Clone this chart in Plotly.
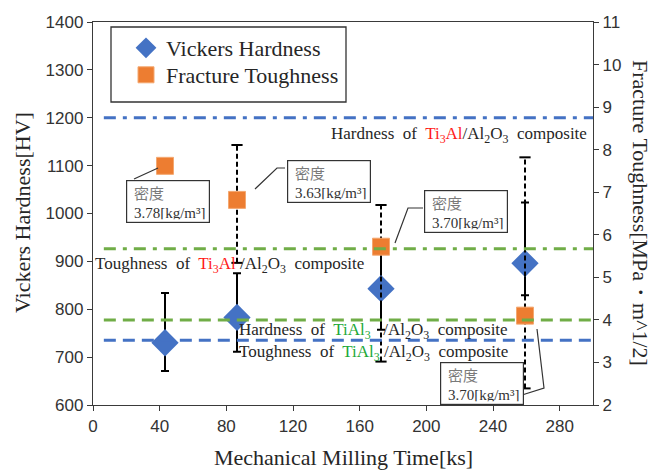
import plotly.graph_objects as go

# ---------------- data ----------------
time_ks = [43.2, 86.4, 172.8, 259.2]
hardness = [730, 783, 843, 896]
hard_err_plus = [104, 92, 86, 127]
hard_err_minus = [59, 72, 86, 67]
toughness = [7.62, 6.82, 5.72, 4.10]
tough_err_plus = [0, 1.29, 0.98, 3.72]
tough_err_minus = [0, 1.48, 2.70, 1.71]

density_labels = ["3.78[kg/m³]", "3.63[kg/m³]", "3.70[kg/m³]", "3.70[kg/m³]"]

ref_x = [6.5, 300]
ref_hard_ti3al = 1200      # HV (left axis)
ref_hard_tial3 = 735       # HV (left axis)
ref_tough_ti3al = 5.67     # MPa m^1/2 (right axis)
ref_tough_tial3 = 4.0      # MPa m^1/2 (right axis)

x_ticks = [0, 40, 80, 120, 160, 200, 240, 280]

BLUE = "#4472C4"
ORANGE = "#ED7D31"
GREEN = "#70AD47"
RED_T = "#FF1A1A"
GREEN_T = "#22A838"
SERIF = "Liberation Serif"
SANS = "Liberation Sans"

# plot area in pixels
L, R, T, B = 93, 593, 22, 405
W, H = R - L, B - T


def px(xp):
    return (xp - L) / W


def py(yp):
    return (B - yp) / H


fig = go.Figure()

# Vickers hardness with solid error bars
fig.add_trace(go.Scatter(
    x=time_ks, y=hardness, mode="markers", name="Vickers Hardness",
    marker=dict(symbol="diamond", size=21, color=BLUE),
    error_y=dict(type="data", array=hard_err_plus, arrayminus=hard_err_minus,
                 color="black", thickness=2, width=4, visible=True),
    yaxis="y", legend="legend",
))

# dashed error bars for toughness
eb_x, eb_y, cap_x, cap_y = [], [], [], []
for xv, yv, ep, em in zip(time_ks, toughness, tough_err_plus, tough_err_minus):
    if ep == 0 and em == 0:
        continue
    eb_x += [xv, xv, None]
    eb_y += [yv - em, yv + ep, None]
    cap_x += [xv, xv]
    cap_y += [yv - em, yv + ep]

fig.add_trace(go.Scatter(
    x=eb_x, y=eb_y, mode="lines", showlegend=False, yaxis="y2",
    line=dict(color="black", width=2, dash="5px,3px"), hoverinfo="skip",
))
fig.add_trace(go.Scatter(
    x=cap_x, y=cap_y, mode="markers", showlegend=False, yaxis="y2",
    marker=dict(symbol="line-ew", size=8, line=dict(color="black", width=2)),
    hoverinfo="skip",
))

fig.add_trace(go.Scatter(
    x=time_ks, y=toughness, mode="markers", name="Fracture Toughness",
    marker=dict(symbol="square", size=17, color=ORANGE,
                line=dict(color="#F4A870", width=1)),
    yaxis="y2", legend="legend2",
))

shapes = []
# reference lines (drawn above markers)
shapes.append(dict(type="line", xref="x", yref="y", x0=ref_x[0], x1=ref_x[1],
                   y0=ref_hard_ti3al, y1=ref_hard_ti3al, layer="above",
                   line=dict(color=BLUE, width=3, dash="12px,7px,4px,7px")))
shapes.append(dict(type="line", xref="x", yref="y", x0=ref_x[0], x1=ref_x[1],
                   y0=ref_hard_tial3, y1=ref_hard_tial3, layer="above",
                   line=dict(color=BLUE, width=3, dash="12px,7px")))
shapes.append(dict(type="line", xref="x", yref="y2", x0=ref_x[0], x1=ref_x[1],
                   y0=ref_tough_ti3al, y1=ref_tough_ti3al, layer="above",
                   line=dict(color=GREEN, width=3, dash="12px,7px,4px,7px")))
shapes.append(dict(type="line", xref="x", yref="y2", x0=ref_x[0], x1=ref_x[1],
                   y0=ref_tough_tial3, y1=ref_tough_tial3, layer="above",
                   line=dict(color=GREEN, width=3, dash="12px,7px")))

# legend frame
shapes.append(dict(type="rect", xref="paper", yref="paper",
                   x0=px(111), x1=px(346), y0=py(102), y1=py(27),
                   line=dict(color="#333333", width=1.3), fillcolor="rgba(0,0,0,0)"))

# callout leader lines (pixel points)
leaders = [
    [(134, 179), (158, 168)],
    [(255, 189), (277, 168), (285, 168)],
    [(395, 243), (408, 208), (423, 208)],
    [(537, 329), (544, 388), (522, 395)],
]
for pts in leaders:
    path = "M " + " L ".join(f"{px(a)},{py(b)}" for a, b in pts)
    shapes.append(dict(type="path", xref="paper", yref="paper", path=path,
                       line=dict(color="#333333", width=1.2)))

annotations = []
# callout boxes (pixel centre, inner height)
boxes = [(167.5, 201, 35), (328.5, 181, 35), (466, 211.5, 35), (482, 383, 35)]
for (cx, cy, bh), lab in zip(boxes, density_labels):
    annotations.append(dict(
        xref="paper", yref="paper", x=px(cx), y=py(cy), xanchor="center", yanchor="middle",
        text=(f"&nbsp;<span style='font-family:Noto Sans CJK JP;color:#7a7a7a'>密度</span>"
              f"<br>&nbsp;{lab}"),
        showarrow=False, align="left", valign="middle", height=bh, borderpad=3,
        bordercolor="#333333", borderwidth=1.2, bgcolor="white",
        font=dict(family=SERIF, size=15, color="#333333"),
    ))

# reference-line labels
def lab(text, x, y):
    annotations.append(dict(xref="paper", yref="paper", x=px(x), y=py(y),
                            xanchor="left", yanchor="middle", text=text, showarrow=False,
                            font=dict(family=SERIF, size=17, color="#262626")))

lab(f"Hardness  of  <span style='color:{RED_T}'>Ti<sub>3</sub>Al</span>/Al<sub>2</sub>O<sub>3</sub>  composite", 329, 135)
lab(f"Toughness  of  <span style='color:{RED_T}'>Ti<sub>3</sub>Al</span> /Al<sub>2</sub>O<sub>3</sub>  composite", 93, 265)
lab(f"Hardness  of  <span style='color:{GREEN_T}'>TiAl<sub>3</sub></span>   /Al<sub>2</sub>O<sub>3</sub>  composite", 237, 331)
lab(f"Toughness  of  <span style='color:{GREEN_T}'>TiAl<sub>3</sub></span> /Al<sub>2</sub>O<sub>3</sub>  composite", 237, 353)

# axis titles
annotations.append(dict(xref="paper", yref="paper", x=px(22), y=py(213), text="Vickers Hardness[HV]",
                        textangle=-90, showarrow=False, xanchor="center", yanchor="middle",
                        font=dict(family=SERIF, size=22, color="#262626")))
annotations.append(dict(xref="paper", yref="paper", x=px(641), y=py(213),
                        text="Fracture Toughness[MPa・m^1/2]",
                        textangle=90, showarrow=False, xanchor="center", yanchor="middle",
                        font=dict(family=SERIF, size=22, color="#262626")))
annotations.append(dict(xref="paper", yref="paper", x=px(343), y=py(458),
                        text="Mechanical Milling Time[ks]",
                        showarrow=False, xanchor="center", yanchor="middle",
                        font=dict(family=SERIF, size=22, color="#262626")))

AX = "#3a3a3a"
leg_common = dict(xanchor="left", yanchor="middle", bgcolor="rgba(0,0,0,0)", borderwidth=0,
                  font=dict(family=SERIF, size=22, color="#262626"), itemsizing="trace")
fig.update_layout(
    width=652, height=470,
    margin=dict(l=L, r=652 - R, t=T, b=470 - B),
    paper_bgcolor="white", plot_bgcolor="white",
    showlegend=True,
    legend=dict(x=px(126), y=py(48), **leg_common),
    legend2=dict(x=px(126), y=py(75), **leg_common),
    xaxis=dict(range=[0, 300], tickvals=x_ticks, showgrid=False, zeroline=False,
               showline=True, linecolor=AX, linewidth=1.3, mirror=True,
               ticks="outside", ticklen=5, tickcolor=AX,
               tickfont=dict(family=SANS, size=17, color="#333333")),
    yaxis=dict(range=[600, 1400], dtick=100, showgrid=False, zeroline=False,
               showline=True, linecolor=AX, linewidth=1.3,
               ticks="outside", ticklen=5, tickcolor=AX,
               tickfont=dict(family=SANS, size=17, color="#333333")),
    yaxis2=dict(range=[2, 11], dtick=1, overlaying="y", side="right", showgrid=False,
                zeroline=False, showline=True, linecolor=AX, linewidth=1.3,
                ticks="outside", ticklen=5, tickcolor=AX,
                tickfont=dict(family=SANS, size=17, color="#333333")),
    shapes=shapes,
    annotations=annotations,
)

fig.write_html("out.html")
